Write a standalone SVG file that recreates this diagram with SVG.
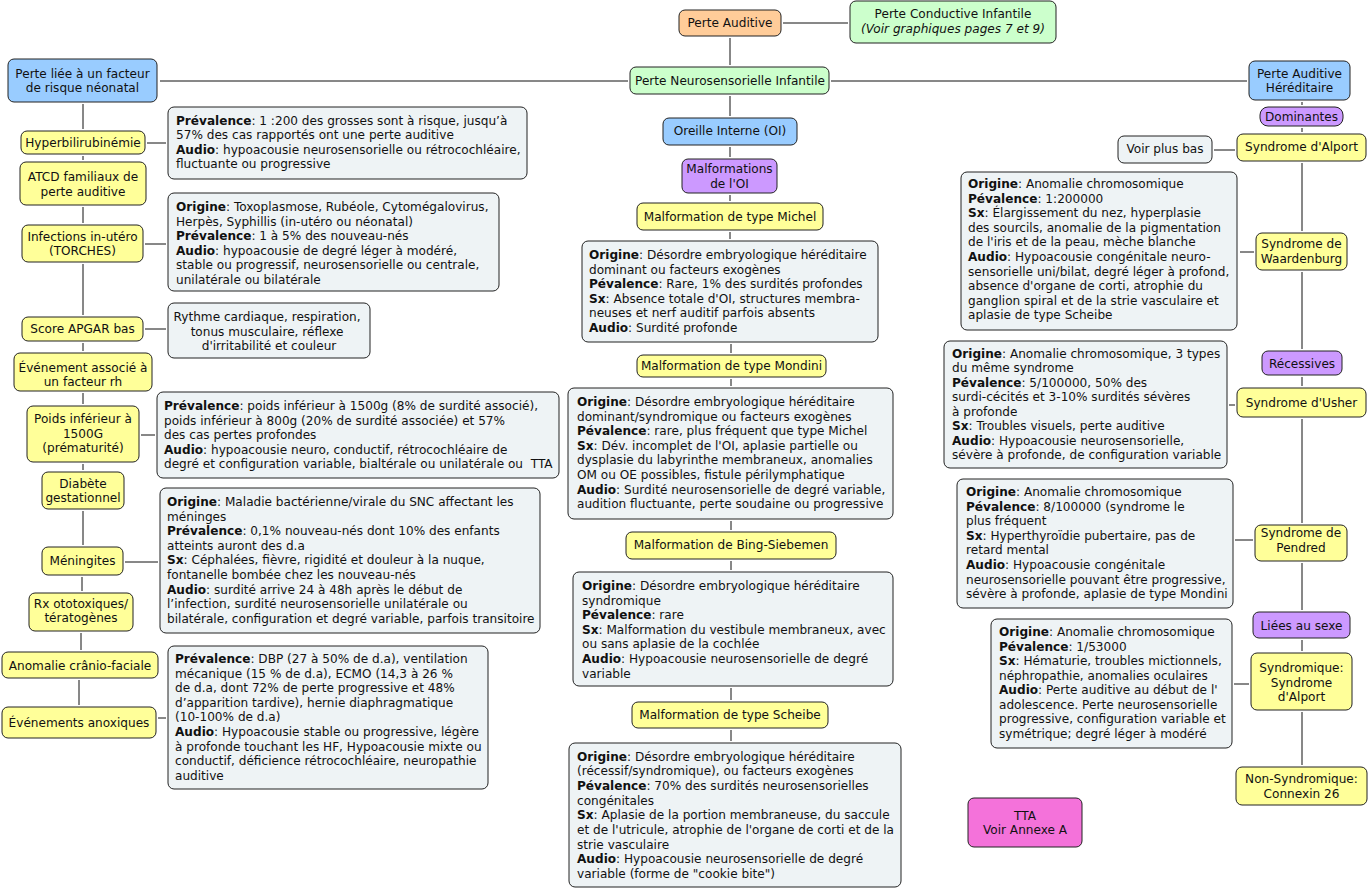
<svg xmlns="http://www.w3.org/2000/svg" width="1368" height="890" viewBox="0 0 1368 890">
<style>
text { font-family: "DejaVu Sans", Verdana, sans-serif; font-size: 12.1px; fill: #111; }
.c { text-anchor: middle; }
.b { font-weight: bold; }
.i { font-style: italic; }
rect { stroke: #222; stroke-width: 1; }
rect.bg { stroke: none; fill: #fff; }
.y { fill: #FFFF99; }
.bl { fill: #99CCFF; }
.g { fill: #CCFFCC; }
.o { fill: #FFCC99; }
.p { fill: #CC99FF; }
.m { fill: #F472DA; }
.d { fill: #EEF3F5; }
#connectors line { stroke: #111; stroke-width: 1; }
</style>
<rect class="bg" width="1368" height="890"/>
<g id="connectors">
<line x1="783" y1="23" x2="848" y2="23"/>
<line x1="730" y1="38" x2="730" y2="65"/>
<line x1="160" y1="81" x2="628" y2="81"/>
<line x1="831" y1="81" x2="1247" y2="81"/>
<line x1="730" y1="96" x2="730" y2="116"/>
<line x1="730" y1="147" x2="730" y2="157"/>
<line x1="730" y1="195" x2="730" y2="201"/>
<line x1="730" y1="232" x2="730" y2="239"/>
<line x1="731" y1="344" x2="731" y2="353"/>
<line x1="731" y1="379" x2="731" y2="386"/>
<line x1="731" y1="521" x2="731" y2="530"/>
<line x1="731" y1="561" x2="731" y2="570"/>
<line x1="731" y1="688" x2="731" y2="700"/>
<line x1="731" y1="730" x2="731" y2="741"/>
<line x1="83" y1="104" x2="83" y2="129"/>
<line x1="83" y1="156" x2="83" y2="160"/>
<line x1="83" y1="207" x2="83" y2="223"/>
<line x1="83" y1="264" x2="83" y2="315"/>
<line x1="83" y1="343" x2="83" y2="351"/>
<line x1="83" y1="393" x2="83" y2="404"/>
<line x1="83" y1="464" x2="83" y2="470"/>
<line x1="83" y1="511" x2="83" y2="545"/>
<line x1="82" y1="577" x2="82" y2="591"/>
<line x1="81" y1="633" x2="81" y2="650"/>
<line x1="79" y1="680" x2="79" y2="705"/>
<line x1="147" y1="143" x2="166" y2="143"/>
<line x1="145" y1="244" x2="166" y2="244"/>
<line x1="145" y1="329" x2="166" y2="329"/>
<line x1="141" y1="435" x2="155" y2="435"/>
<line x1="125" y1="562" x2="158" y2="562"/>
<line x1="158" y1="718" x2="166" y2="718"/>
<line x1="1302" y1="102" x2="1302" y2="105"/>
<line x1="1302" y1="128" x2="1302" y2="132"/>
<line x1="1302" y1="163" x2="1302" y2="231"/>
<line x1="1302" y1="272" x2="1302" y2="349"/>
<line x1="1302" y1="377" x2="1302" y2="386"/>
<line x1="1302" y1="419" x2="1302" y2="523"/>
<line x1="1302" y1="563" x2="1302" y2="610"/>
<line x1="1302" y1="640" x2="1302" y2="651"/>
<line x1="1302" y1="712" x2="1302" y2="765"/>
<line x1="1214" y1="150" x2="1235" y2="150"/>
<line x1="1240" y1="252" x2="1254" y2="252"/>
<line x1="1229" y1="405" x2="1235" y2="405"/>
<line x1="1235" y1="540" x2="1253" y2="540"/>
<line x1="1234" y1="684" x2="1249" y2="684"/>
</g>

<g id="perte-auditive"><rect class="o" x="679" y="10" width="102" height="26" rx="6"/><text class="c" x="730" y="27">Perte Auditive</text></g>
<g id="perte-conductive"><rect class="g" x="850" y="1" width="206" height="42" rx="6"/><text class="c" x="953" y="18">Perte Conductive Infantile</text><text class="c i" x="953" y="32.5">(Voir graphiques pages 7 et 9)</text></g>
<g id="perte-neuro"><rect class="g" x="630" y="67" width="199" height="27" rx="6"/><text class="c" x="730" y="85">Perte Neurosensorielle Infantile</text></g>
<g id="perte-risque"><rect class="bl" x="8" y="59" width="149" height="43" rx="6"/><text class="c" x="82.5" y="77.5">Perte liée à un facteur</text><text class="c" x="82.5" y="92">de risque néonatal</text></g>
<g id="perte-hereditaire"><rect class="bl" x="1249" y="61" width="101" height="39" rx="6"/><text class="c" x="1299.5" y="77.5">Perte Auditive</text><text class="c" x="1299.5" y="92">Héréditaire</text></g>

<g id="hyperbili"><rect class="y" x="21" y="131" width="124" height="23" rx="6"/><text class="c" x="83" y="147">Hyperbilirubinémie</text></g>
<g id="atcd"><rect class="y" x="20" y="162" width="126" height="43" rx="6"/><text class="c" x="83" y="181">ATCD familiaux de</text><text class="c" x="83" y="195.5">perte auditive</text></g>
<g id="infections"><rect class="y" x="22" y="225" width="121" height="37" rx="6"/><text class="c" x="82.5" y="241">Infections in-utéro</text><text class="c" x="82.5" y="255">(TORCHES)</text></g>
<g id="apgar"><rect class="y" x="22" y="317" width="121" height="24" rx="6"/><text class="c" x="82.5" y="332.5">Score APGAR bas</text></g>
<g id="evenement-rh"><rect class="y" x="14" y="353" width="138" height="38" rx="6"/><text class="c" x="83" y="371.5">Événement associé à</text><text class="c" x="83" y="385.5">un facteur rh</text></g>
<g id="poids"><rect class="y" x="27" y="406" width="112" height="56" rx="6"/><text class="c" x="83" y="423">Poids inférieur à</text><text class="c" x="83" y="437.5">1500G</text><text class="c" x="83" y="452">(prématurité)</text></g>
<g id="diabete"><rect class="y" x="42" y="472" width="82" height="37" rx="6"/><text class="c" x="83" y="488">Diabète</text><text class="c" x="83" y="502">gestationnel</text></g>
<g id="meningites"><rect class="y" x="42" y="547" width="81" height="28" rx="6"/><text class="c" x="82.5" y="565">Méningites</text></g>
<g id="rx"><rect class="y" x="29" y="593" width="104" height="38" rx="6"/><text class="c" x="81" y="608">Rx ototoxiques/</text><text class="c" x="81" y="622">tératogènes</text></g>
<g id="anomalie"><rect class="y" x="2" y="652" width="156" height="26" rx="6"/><text class="c" x="80" y="670">Anomalie crânio-faciale</text></g>
<g id="anoxiques"><rect class="y" x="2" y="707" width="154" height="31" rx="6"/><text class="c" x="79" y="727">Événements anoxiques</text></g>

<g id="d-hyperbili"><rect class="d" x="168" y="107" width="359" height="72" rx="6"/><text>
<tspan x="176" y="124.5"><tspan class="b">Prévalence</tspan>: 1 :200 des grosses sont à risque, jusqu’à</tspan>
<tspan x="176" y="139">57% des cas rapportés ont une perte auditive</tspan>
<tspan x="176" y="153.5"><tspan class="b">Audio</tspan>: hypoacousie neurosensorielle ou rétrocochléaire,</tspan>
<tspan x="176" y="168">fluctuante ou progressive</tspan></text></g>
<g id="d-infections"><rect class="d" x="168" y="193" width="331" height="98" rx="6"/><text>
<tspan x="176" y="211"><tspan class="b">Origine</tspan>: Toxoplasmose, Rubéole, Cytomégalovirus,</tspan>
<tspan x="176" y="225.6">Herpès, Syphillis (in-utéro ou néonatal)</tspan>
<tspan x="176" y="240.2"><tspan class="b">Prévalence</tspan>: 1 à 5% des nouveau-nés</tspan>
<tspan x="176" y="254.8"><tspan class="b">Audio</tspan>: hypoacousie de degré léger à modéré,</tspan>
<tspan x="176" y="269.4">stable ou progressif, neurosensorielle ou centrale,</tspan>
<tspan x="176" y="284">unilatérale ou bilatérale</tspan></text></g>
<g id="d-apgar"><rect class="d" x="168" y="303" width="202" height="55" rx="6"/><text class="c">
<tspan x="269" y="321">Rythme cardiaque, respiration,</tspan>
<tspan x="269" y="335.5">tonus musculaire, réflexe</tspan>
<tspan x="269" y="350">d'irritabilité et couleur</tspan></text></g>
<g id="d-poids"><rect class="d" x="157" y="392" width="402" height="86" rx="6"/><text>
<tspan x="164" y="410"><tspan class="b">Prévalence</tspan>: poids inférieur à 1500g (8% de surdité associé),</tspan>
<tspan x="164" y="424.6">poids inférieur à 800g (20% de surdité associée) et 57%</tspan>
<tspan x="164" y="439.2">des cas pertes profondes</tspan>
<tspan x="164" y="453.8"><tspan class="b">Audio</tspan>: hypoacousie neuro, conductif, rétrocochléaire de</tspan>
<tspan x="164" y="468.4">degré et configuration variable, bialtérale ou unilatérale ou &#160;TTA</tspan></text></g>
<g id="d-meningites"><rect class="d" x="160" y="488" width="380" height="145" rx="6"/><text>
<tspan x="167" y="506"><tspan class="b">Origine</tspan>: Maladie bactérienne/virale du SNC affectant les</tspan>
<tspan x="167" y="520.6">méninges</tspan>
<tspan x="167" y="535.2"><tspan class="b">Prévalence</tspan>: 0,1% nouveau-nés dont 10% des enfants</tspan>
<tspan x="167" y="549.8">atteints auront des d.a</tspan>
<tspan x="167" y="564.4"><tspan class="b">Sx</tspan>: Céphalées, fièvre, rigidité et douleur à la nuque,</tspan>
<tspan x="167" y="579">fontanelle bombée chez les nouveau-nés</tspan>
<tspan x="167" y="593.6"><tspan class="b">Audio</tspan>: surdité arrive 24 à 48h après le début de</tspan>
<tspan x="167" y="608.2">l’infection, surdité neurosensorielle unilatérale ou</tspan>
<tspan x="167" y="622.8">bilatérale, configuration et degré variable, parfois transitoire</tspan></text></g>
<g id="d-anoxiques"><rect class="d" x="168" y="646" width="320" height="143" rx="6"/><text>
<tspan x="175" y="663"><tspan class="b">Prévalence</tspan>: DBP (27 à 50% de d.a), ventilation</tspan>
<tspan x="175" y="677.6">mécanique (15 % de d.a), ECMO (14,3 à 26 %</tspan>
<tspan x="175" y="692.2">de d.a, dont 72% de perte progressive et 48%</tspan>
<tspan x="175" y="706.8">d’apparition tardive), hernie diaphragmatique</tspan>
<tspan x="175" y="721.4">(10-100% de d.a)</tspan>
<tspan x="175" y="736"><tspan class="b">Audio</tspan>: Hypoacousie stable ou progressive, légère</tspan>
<tspan x="175" y="750.6">à profonde touchant les HF, Hypoacousie mixte ou</tspan>
<tspan x="175" y="765.2">conductif, déficience rétrocochléaire, neuropathie</tspan>
<tspan x="175" y="779.8">auditive</tspan></text></g>

<g id="oreille-interne"><rect class="bl" x="663" y="118" width="134" height="27" rx="6"/><text class="c" x="730" y="135">Oreille Interne (OI)</text></g>
<g id="malformations"><rect class="p" x="682" y="159" width="95" height="34" rx="6"/><text class="c" x="729.5" y="173">Malformations</text><text class="c" x="729.5" y="187.5">de l'OI</text></g>
<g id="michel"><rect class="y" x="637" y="203" width="186" height="27" rx="6"/><text class="c" x="730" y="220.5">Malformation de type Michel</text></g>
<g id="d-michel"><rect class="d" x="582" y="241" width="296" height="101" rx="6"/><text>
<tspan x="589" y="259"><tspan class="b">Origine</tspan>: Désordre embryologique héréditaire</tspan>
<tspan x="589" y="273.6">dominant ou facteurs exogènes</tspan>
<tspan x="589" y="288.2"><tspan class="b">Pévalence</tspan>: Rare, 1% des surdités profondes</tspan>
<tspan x="589" y="302.8"><tspan class="b">Sx</tspan>: Absence totale d'OI, structures membra-</tspan>
<tspan x="589" y="317.4">neuses et nerf auditif parfois absents</tspan>
<tspan x="589" y="332"><tspan class="b">Audio</tspan>: Surdité profonde</tspan></text></g>
<g id="mondini"><rect class="y" x="637" y="355" width="189" height="22" rx="6"/><text class="c" x="731.5" y="370">Malformation de type Mondini</text></g>
<g id="d-mondini"><rect class="d" x="568" y="388" width="325" height="131" rx="6"/><text>
<tspan x="577" y="406"><tspan class="b">Origine</tspan>: Désordre embryologique héréditaire</tspan>
<tspan x="577" y="420.6">dominant/syndromique ou facteurs exogènes</tspan>
<tspan x="577" y="435.2"><tspan class="b">Pévalence</tspan>: rare, plus fréquent que type Michel</tspan>
<tspan x="577" y="449.8"><tspan class="b">Sx</tspan>: Dév. incomplet de l'OI, aplasie partielle ou</tspan>
<tspan x="577" y="464.4">dysplasie du labyrinthe membraneux, anomalies</tspan>
<tspan x="577" y="479">OM ou OE possibles, fistule périlymphatique</tspan>
<tspan x="577" y="493.6"><tspan class="b">Audio</tspan>: Surdité neurosensorielle de degré variable,</tspan>
<tspan x="577" y="508.2">audition fluctuante, perte soudaine ou progressive</tspan></text></g>
<g id="bing"><rect class="y" x="626" y="532" width="210" height="27" rx="6"/><text class="c" x="731" y="549">Malformation de Bing-Siebemen</text></g>
<g id="d-bing"><rect class="d" x="573" y="572" width="320" height="114" rx="6"/><text>
<tspan x="582" y="590"><tspan class="b">Origine</tspan>: Désordre embryologique héréditaire</tspan>
<tspan x="582" y="604.6">syndromique</tspan>
<tspan x="582" y="619.2"><tspan class="b">Pévalence</tspan>: rare</tspan>
<tspan x="582" y="633.8"><tspan class="b">Sx</tspan>: Malformation du vestibule membraneux, avec</tspan>
<tspan x="582" y="648.4">ou sans aplasie de la cochlée</tspan>
<tspan x="582" y="663"><tspan class="b">Audio</tspan>: Hypoacousie neurosensorielle de degré</tspan>
<tspan x="582" y="677.6">variable</tspan></text></g>
<g id="scheibe"><rect class="y" x="632" y="702" width="196" height="26" rx="6"/><text class="c" x="730" y="718.5">Malformation de type Scheibe</text></g>
<g id="d-scheibe"><rect class="d" x="569" y="743" width="332" height="144" rx="6"/><text>
<tspan x="577" y="760.5"><tspan class="b">Origine</tspan>: Désordre embryologique héréditaire</tspan>
<tspan x="577" y="775.2">(récessif/syndromique), ou facteurs exogènes</tspan>
<tspan x="577" y="789.9"><tspan class="b">Pévalence</tspan>: 70% des surdités neurosensorielles</tspan>
<tspan x="577" y="804.6">congénitales</tspan>
<tspan x="577" y="819.3"><tspan class="b">Sx</tspan>: Aplasie de la portion membraneuse, du saccule</tspan>
<tspan x="577" y="834">et de l'utricule, atrophie de l'organe de corti et de la</tspan>
<tspan x="577" y="848.7">strie vasculaire</tspan>
<tspan x="577" y="863.4"><tspan class="b">Audio</tspan>: Hypoacousie neurosensorielle de degré</tspan>
<tspan x="577" y="878.1">variable (forme de "cookie bite")</tspan></text></g>

<g id="dominantes"><rect class="p" x="1260" y="107" width="83" height="19" rx="8"/><text class="c" x="1301.5" y="121">Dominantes</text></g>
<g id="alport-dom"><rect class="y" x="1237" y="134" width="129" height="27" rx="6"/><text class="c" x="1301.5" y="151">Syndrome d'Alport</text></g>
<g id="voir-plus-bas"><rect class="d" x="1118" y="136" width="94" height="27" rx="6"/><text class="c" x="1165" y="153">Voir plus bas</text></g>
<g id="d-waardenburg"><rect class="d" x="961" y="172" width="276" height="158" rx="6"/><text>
<tspan x="968" y="188"><tspan class="b">Origine</tspan>: Anomalie chromosomique</tspan>
<tspan x="968" y="202.6"><tspan class="b">Pévalence</tspan>: 1:200000</tspan>
<tspan x="968" y="217.2"><tspan class="b">Sx</tspan>: Élargissement du nez, hyperplasie</tspan>
<tspan x="968" y="231.8">des sourcils, anomalie de la pigmentation</tspan>
<tspan x="968" y="246.4">de l'iris et de la peau, mèche blanche</tspan>
<tspan x="968" y="261"><tspan class="b">Audio</tspan>: Hypoacousie congénitale neuro-</tspan>
<tspan x="968" y="275.6">sensorielle uni/bilat, degré léger à profond,</tspan>
<tspan x="968" y="290.2">absence d'organe de corti, atrophie du</tspan>
<tspan x="968" y="304.8">ganglion spiral et de la strie vasculaire et</tspan>
<tspan x="968" y="319.4">aplasie de type Scheibe</tspan></text></g>
<g id="waardenburg"><rect class="y" x="1256" y="233" width="91" height="37" rx="6"/><text class="c" x="1301.5" y="248">Syndrome de</text><text class="c" x="1301.5" y="262.5">Waardenburg</text></g>
<g id="recessives"><rect class="p" x="1262" y="351" width="80" height="24" rx="6"/><text class="c" x="1302" y="367.5">Récessives</text></g>
<g id="usher"><rect class="y" x="1237" y="388" width="129" height="29" rx="6"/><text class="c" x="1301.5" y="407">Syndrome d'Usher</text></g>
<g id="d-usher"><rect class="d" x="944" y="341" width="283" height="127" rx="6"/><text>
<tspan x="952" y="357.5"><tspan class="b">Origine</tspan>: Anomalie chromosomique, 3 types</tspan>
<tspan x="952" y="372">du même syndrome</tspan>
<tspan x="952" y="386.5"><tspan class="b">Pévalence</tspan>: 5/100000, 50% des</tspan>
<tspan x="952" y="401">surdi-cécités et 3-10% surdités sévères</tspan>
<tspan x="952" y="415.5">à profonde</tspan>
<tspan x="952" y="430"><tspan class="b">Sx</tspan>: Troubles visuels, perte auditive</tspan>
<tspan x="952" y="444.5"><tspan class="b">Audio</tspan>: Hypoacousie neurosensorielle,</tspan>
<tspan x="952" y="459">sévère à profonde, de configuration variable</tspan></text></g>
<g id="d-pendred"><rect class="d" x="957" y="479" width="276" height="129" rx="6"/><text>
<tspan x="966" y="496"><tspan class="b">Origine</tspan>: Anomalie chromosomique</tspan>
<tspan x="966" y="510.6"><tspan class="b">Pévalence</tspan>: 8/100000 (syndrome le</tspan>
<tspan x="966" y="525.2">plus fréquent</tspan>
<tspan x="966" y="539.8"><tspan class="b">Sx</tspan>: Hyperthyroïdie pubertaire, pas de</tspan>
<tspan x="966" y="554.4">retard mental</tspan>
<tspan x="966" y="569"><tspan class="b">Audio</tspan>: Hypoacousie congénitale</tspan>
<tspan x="966" y="583.6">neurosensorielle pouvant être progressive,</tspan>
<tspan x="966" y="598.2">sévère à profonde, aplasie de type Mondini</tspan></text></g>
<g id="pendred"><rect class="y" x="1255" y="525" width="92" height="36" rx="6"/><text class="c" x="1301" y="537">Syndrome de</text><text class="c" x="1301" y="552">Pendred</text></g>
<g id="liees-sexe"><rect class="p" x="1253" y="612" width="97" height="26" rx="6"/><text class="c" x="1301.5" y="630">Liées au sexe</text></g>
<g id="alport-sexe"><rect class="y" x="1251" y="653" width="101" height="57" rx="6"/><text class="c" x="1301.5" y="672">Syndromique:</text><text class="c" x="1301.5" y="686.5">Syndrome</text><text class="c" x="1301.5" y="701">d'Alport</text></g>
<g id="d-alport"><rect class="d" x="991" y="619" width="241" height="129" rx="6"/><text>
<tspan x="999" y="636"><tspan class="b">Origine</tspan>: Anomalie chromosomique</tspan>
<tspan x="999" y="650.5"><tspan class="b">Pévalence</tspan>: 1/53000</tspan>
<tspan x="999" y="665"><tspan class="b">Sx</tspan>: Hématurie, troubles mictionnels,</tspan>
<tspan x="999" y="679.5">néphropathie, anomalies oculaires</tspan>
<tspan x="999" y="694"><tspan class="b">Audio</tspan>: Perte auditive au début de l'</tspan>
<tspan x="999" y="708.5">adolescence. Perte neurosensorielle</tspan>
<tspan x="999" y="723">progressive, configuration variable et</tspan>
<tspan x="999" y="737.5">symétrique; degré léger à modéré</tspan></text></g>
<g id="connexin"><rect class="y" x="1236" y="767" width="131" height="38" rx="6"/><text class="c" x="1301.5" y="783">Non-Syndromique:</text><text class="c" x="1301.5" y="797.5">Connexin 26</text></g>
<g id="tta"><rect class="m" x="968" y="798" width="114" height="49" rx="6"/><text class="c" x="1025" y="820">TTA</text><text class="c" x="1025" y="834">Voir Annexe A</text></g>
</svg>
